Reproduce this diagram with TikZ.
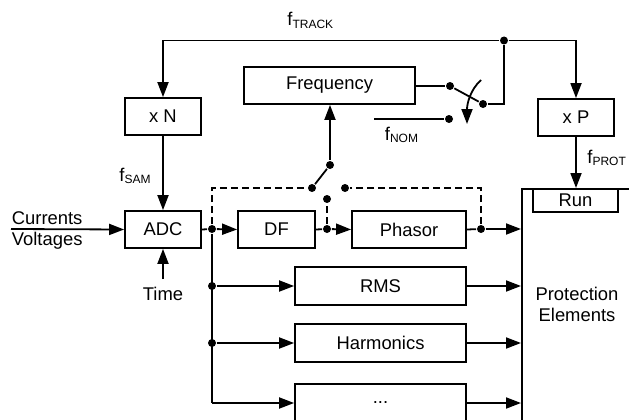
\documentclass[tikz,border=0pt]{standalone}
\usepackage{fontspec}
\setmainfont{Liberation Sans}
\usetikzlibrary{arrows.meta}
\newcommand{\fsub}[1]{f\raisebox{-2.5pt}{\fontsize{12}{13}\selectfont #1}}
\begin{document}
\begin{tikzpicture}[x=1pt,y=-1pt,
  line width=1.8pt,
  >={Triangle[length=15pt,width=11pt]},
  every node/.style={font=\fontsize{18.4}{21}\selectfont, inner sep=0pt},
  box/.style={draw, line width=1.8pt, minimum height=37pt},
  dot/.style={circle, fill, inner sep=0pt, minimum size=8pt},
  dsh/.style={dash pattern=on 7pt off 4pt},
  lbl/.style={anchor=base west}]
\useasboundingbox (0,0) rectangle (629,420);
\clip (0,0) rectangle (629,420);

% boxes
\node[box, minimum width=76] (xn) at (163,116.5) {x N};
\node[box, minimum width=76] (xp) at (576,117.5) {x P};
\node[box, minimum width=76] (adc) at (163,229.5) {ADC};
\node[box, minimum width=77] (df) at (276.5,229.5) {DF};
\node[box, minimum width=114] (ph) at (409,229.5) {Phasor};
\node[box, minimum width=171] (freq) at (329.5,85.5) {Frequency};
\node[box, minimum width=171, minimum height=38] (rms) at (380.5,286) {RMS};
\node[box, minimum width=171, minimum height=38] (harm) at (380.5,343) {Harmonics};
\node[box, minimum width=171, minimum height=38] (more) at (380.5,403) {...};
\node[draw, line width=1.8pt, minimum width=200, minimum height=300, anchor=north west] (pe) at (521,188) {};
\node[box, minimum width=85, minimum height=23] (run) at (575.5,200.5) {Run};
\node[align=center] (petext) at (577,304) {Protection\\Elements};

% labels
\node[lbl] (lcur) at (11,224) {Currents};
\node[lbl] (lvol) at (11,245) {Voltages};
\node[anchor=base] (ltime) at (163,300) {Time};
\node[lbl] (ltrack) at (286.5,26) {\fsub{TRACK}};
\node[lbl] (lsam) at (118.5,181) {\fsub{SAM}};
\node[lbl] (lnom) at (384,140) {\fsub{NOM}};
\node[lbl] (lprot) at (586.5,163) {\fsub{PROT}};

% coordinates and dots
\coordinate (cin) at (11,229);
\coordinate (tin) at (163,279);
\node[dot] (j1) at (212,229) {};
\node[dot] (j2) at (212,286) {};
\node[dot] (j3) at (212,343) {};
\coordinate (j4c) at (212,403);
\node[dot] (j4) at (327,229) {};
\node[dot] (s1) at (327,199) {};
\node[dot] (j5) at (481,229) {};
\node[dot] (s2) at (345,188) {};
\node[dot] (s3) at (312,188) {};
\node[dot] (s4) at (330,165) {};
\coordinate (t0) at (163,40.5);
\node[dot] (t1) at (504,40.5) {};
\coordinate (t2) at (576,40.5);
\node[dot] (sw1) at (450,86) {};
\node[dot] (sw2) at (483,104) {};
\node[dot] (nom) at (449,119) {};
\coordinate (nomst) at (374,119);
\coordinate (ca) at (481,80);
\coordinate (cb) at (467,124);

% connectors
\draw[->] (cin) -- (adc.west);
\draw[->] (tin) -- (adc.south);
\draw[->] (xn.south) -- (adc.north);
\draw (adc.east) -- (j1);
\draw[->] (j1) -- (df.west);
\draw (df.east) -- (j4);
\draw[->] (j4) -- (ph.west);
\draw (ph.east) -- (j5);
\draw[->] (j5) -- (j5 -| pe.west);
\draw (j1) -- (j4c);
\draw[->] (j2) -- (rms.west);
\draw[->] (j3) -- (harm.west);
\draw[->] (j4c) -- (more.west);
\draw[->] (rms.east) -- (rms.east -| pe.west);
\draw[->] (harm.east) -- (harm.east -| pe.west);
\draw[->] (more.east) -- (more.east -| pe.west);

% dashed
\draw[dsh] (j1) |- (s3);
\draw[dsh] (j4) -- (s1);
\draw[dsh] (j5) |- (s2);

% switch to frequency
\draw (s3) -- (s4);
\draw[->] (s4) -- (s4 |- freq.south);

% top loop
\draw[->] (t1) -| (xn.north);
\draw[->] (t1) -| (xp.north);
\draw (t1) |- (sw2);
\draw (freq.east |- sw1) -- (sw1);
\draw (sw1) -- (sw2);
\draw (nomst) -- (nom);
\draw[->] (ca) .. controls (470,90) and (467,104) .. (cb);
\draw[->] (xp.south) -- (xp.south |- pe.north);
\end{tikzpicture}
\end{document}
